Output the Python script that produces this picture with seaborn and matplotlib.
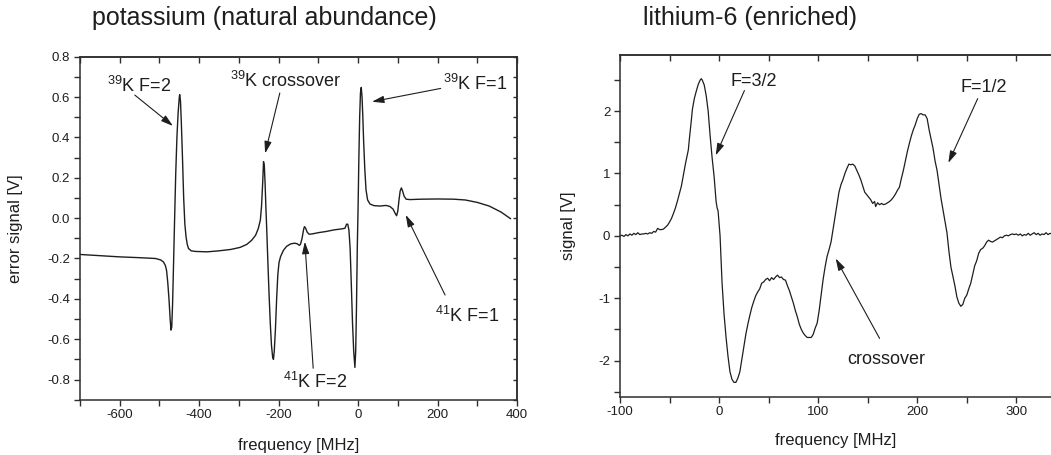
import matplotlib
matplotlib.use("Agg")
import matplotlib.pyplot as plt
import seaborn as sns
from matplotlib.ticker import MultipleLocator, FuncFormatter

# ---------------- data ----------------
K_FREQ = [-700, -650, -600, -550, -510, -497, -490, -485, -482, -479, -476, -473, -471, -469, -467,
          -465, -462, -459, -456, -453, -450, -449, -447, -445, -442, -439, -436, -433, -430, -427,
          -420, -410, -380, -350, -320, -297, -280, -268, -258, -251, -246, -243, -240, -238, -236,
          -234, -232, -230, -227, -224, -221, -218, -215, -213, -211, -208, -205, -202, -199, -195,
          -188, -180, -170, -160, -153, -148, -145, -141, -137, -135, -132, -128, -123, -115, -100,
          -80, -60, -40, -33, -29, -26, -23, -20, -17, -14, -11, -8, -6, -4, -2,
          0, 2, 4, 6, 8, 10, 12, 14, 17, 20, 24, 30, 40, 55, 70,
          80, 88, 93, 97, 100, 103, 106, 109, 112, 116, 121, 130, 160, 200, 240,
          270, 300, 330, 360, 384]
K_SIGNAL = [-0.180, -0.186, -0.192, -0.196, -0.200, -0.207, -0.217, -0.235, -0.26, -0.32, -0.40, -0.50, -0.555, -0.54, -0.43,
            -0.27, -0.02, 0.22, 0.40, 0.52, 0.60, 0.612, 0.58, 0.48, 0.30, 0.10, -0.03, -0.093, -0.13, -0.15,
            -0.162, -0.165, -0.167, -0.162, -0.155, -0.145, -0.13, -0.11, -0.085, -0.05, -0.01, 0.06, 0.18, 0.28, 0.26,
            0.17, 0.05, -0.05, -0.22, -0.38, -0.52, -0.63, -0.69, -0.70, -0.66, -0.55, -0.40, -0.28, -0.22, -0.19,
            -0.16, -0.14, -0.128, -0.124, -0.127, -0.135, -0.13, -0.10, -0.055, -0.042, -0.05, -0.07, -0.08, -0.078, -0.072,
            -0.066, -0.058, -0.053, -0.05, -0.03, -0.03, -0.06, -0.15, -0.33, -0.52, -0.66, -0.74, -0.66, -0.44, -0.15,
            0.05, 0.30, 0.50, 0.62, 0.648, 0.60, 0.50, 0.38, 0.24, 0.14, 0.09, 0.07, 0.062, 0.06, 0.063,
            0.058, 0.045, 0.025, 0.012, 0.035, 0.09, 0.135, 0.15, 0.135, 0.108, 0.094, 0.092, 0.094, 0.095, 0.094,
            0.09, 0.078, 0.06, 0.03, -0.003]

LI_FREQ = [-100, -98, -96, -94, -92, -90, -88, -86, -84, -82, -80, -78, -76, -74, -72,
           -70, -68, -66, -64, -62, -60, -58, -56, -54, -52, -50, -48, -46, -44, -42,
           -40, -38, -36, -34, -32, -31, -30, -28, -27, -25, -23, -21, -19, -18, -17,
           -15, -13, -11, -9, -7, -5, -3, -2, -1, 1, 3, 5, 7, 9, 11,
           13, 15, 17, 19, 21, 23, 25, 27, 29, 31, 33, 35, 37, 39, 41,
           43, 45, 47, 49, 51, 53, 55, 57, 59, 61, 63, 65, 67, 69, 71,
           73, 75, 77, 79, 81, 83, 85, 87, 89, 91, 93, 95, 97, 99, 101,
           103, 105, 107, 109, 111, 113, 115, 117, 119, 121, 123, 125, 127, 129, 131,
           133, 135, 137, 139, 141, 143, 145, 147, 149, 151, 153, 155, 157, 158, 160,
           162, 164, 166, 168, 170, 172, 174, 176, 178, 180, 182, 184, 186, 188, 190,
           192, 194, 196, 198, 200, 202, 204, 206, 208, 210, 212, 214, 216, 218, 220,
           222, 224, 226, 228, 230, 232, 234, 236, 238, 240, 242, 244, 246, 248, 250,
           252, 254, 256, 258, 260, 262, 264, 266, 268, 270, 272, 274, 276, 278, 280,
           282, 284, 286, 288, 290, 292, 294, 296, 298, 300, 302, 304, 306, 308, 310,
           312, 314, 316, 318, 320, 322, 324, 326, 328, 330, 332, 334, 336]
LI_SIGNAL = [0.00, 0.01, -0.01, 0.02, 0.00, 0.03, 0.01, 0.04, 0.02, 0.05, 0.02, 0.03, 0.03, 0.04, 0.03,
             0.05, 0.04, 0.07, 0.06, 0.12, 0.10, 0.10, 0.11, 0.14, 0.17, 0.22, 0.28, 0.36, 0.45, 0.56,
             0.68, 0.80, 0.98, 1.15, 1.30, 1.38, 1.55, 1.85, 2.02, 2.20, 2.32, 2.43, 2.50, 2.52, 2.50,
             2.42, 2.25, 2.00, 1.60, 1.25, 0.95, 0.55, 0.45, 0.40, 0.00, -0.75, -1.25, -1.62, -1.93, -2.18,
             -2.30, -2.35, -2.35, -2.28, -2.18, -1.98, -1.78, -1.58, -1.42, -1.28, -1.15, -1.05, -0.96, -0.90, -0.85,
             -0.76, -0.74, -0.70, -0.68, -0.72, -0.67, -0.70, -0.66, -0.63, -0.67, -0.66, -0.70, -0.71, -0.80, -0.88,
             -0.98, -1.08, -1.20, -1.30, -1.42, -1.50, -1.56, -1.60, -1.63, -1.63, -1.63, -1.58, -1.48, -1.40, -1.20,
             -0.95, -0.70, -0.50, -0.33, -0.22, -0.10, 0.10, 0.30, 0.50, 0.70, 0.82, 0.90, 1.00, 1.08, 1.15,
             1.14, 1.15, 1.12, 1.05, 0.98, 0.90, 0.80, 0.70, 0.66, 0.62, 0.58, 0.52, 0.55, 0.47, 0.53,
             0.50, 0.52, 0.50, 0.51, 0.53, 0.55, 0.58, 0.62, 0.67, 0.73, 0.78, 0.92, 1.05, 1.20, 1.35,
             1.48, 1.60, 1.70, 1.78, 1.88, 1.95, 1.96, 1.94, 1.94, 1.88, 1.70, 1.55, 1.40, 1.20, 1.05,
             0.82, 0.60, 0.42, 0.25, 0.05, -0.25, -0.50, -0.65, -0.80, -0.98, -1.08, -1.13, -1.10, -1.00, -0.95,
             -0.85, -0.76, -0.62, -0.48, -0.40, -0.28, -0.22, -0.20, -0.16, -0.10, -0.07, -0.09, -0.10, -0.08, -0.06,
             -0.04, -0.02, -0.03, 0.00, 0.01, 0.00, 0.02, 0.03, 0.02, 0.03, 0.01, 0.03, 0.00, 0.02, 0.01,
             0.04, 0.01, 0.03, 0.05, 0.02, 0.04, 0.01, 0.03, 0.02, 0.05, 0.02, 0.04, 0.03]

TITLES = ["potassium (natural abundance)", "lithium-6 (enriched)"]
K_LABELS = [r"$^{39}$K F=2", r"$^{39}$K crossover", r"$^{39}$K F=1", r"$^{41}$K F=1", r"$^{41}$K F=2"]
LI_LABELS = ["F=3/2", "F=1/2", "crossover"]

# ---------------- style ----------------
sns.set_theme(style="ticks")
plt.rcParams["font.family"] = ["Liberation Sans", "DejaVu Sans"]
plt.rcParams["mathtext.fontset"] = "custom"
plt.rcParams["mathtext.rm"] = "Liberation Sans"
plt.rcParams["mathtext.it"] = "Liberation Sans:italic"
plt.rcParams["mathtext.default"] = "regular"
plt.rcParams["axes.unicode_minus"] = False

INK = "#1e1e1e"
SPINE = "#2e2e2e"

fig = plt.figure(figsize=(10.51, 4.55), dpi=100)
axL = fig.add_axes([0.0761, 0.1215, 0.4158, 0.7538])
axR = fig.add_axes([0.5899, 0.1281, 0.4101, 0.751])

sns.lineplot(x=K_FREQ, y=K_SIGNAL, ax=axL, color=INK, linewidth=1.0, estimator=None, sort=False)
sns.lineplot(x=LI_FREQ, y=LI_SIGNAL, ax=axR, color=INK, linewidth=0.9, estimator=None, sort=False)

fmt1 = FuncFormatter(lambda v, p: f"{round(v, 1) + 0:.1f}")
fmtint = FuncFormatter(lambda v, p: f"{int(round(v))}")


def style_axes(ax, xlim, ylim, xmaj, xmin, ymaj, ymin, yfmt, right_spine=True):
    ax.set_xlim(*xlim)
    ax.set_ylim(*ylim)
    ax.xaxis.set_major_locator(MultipleLocator(xmaj))
    ax.xaxis.set_minor_locator(MultipleLocator(xmin))
    ax.yaxis.set_major_locator(MultipleLocator(ymaj))
    ax.yaxis.set_minor_locator(MultipleLocator(ymin))
    ax.xaxis.set_major_formatter(fmtint)
    ax.yaxis.set_major_formatter(yfmt)
    ax.tick_params(which="both", direction="out", length=4, width=1.0, color=SPINE,
                   top=False, right=False, labelsize=9.5, labelcolor=INK, pad=3)
    for s in ax.spines.values():
        s.set_color(SPINE)
        s.set_linewidth(1.1)
    ax.spines["top"].set_visible(True)
    ax.spines["right"].set_visible(right_spine)
    sec = ax.secondary_xaxis("top")
    sec.xaxis.set_major_locator(MultipleLocator(xmin))
    sec.tick_params(direction="in", length=4, width=1.0, color=SPINE, labeltop=False)
    sec.spines["top"].set_color(SPINE)
    sec.spines["top"].set_linewidth(1.1)
    if right_spine:
        secy = ax.secondary_yaxis("right")
        secy.yaxis.set_major_locator(MultipleLocator(ymin))
        secy.tick_params(direction="in", length=3, width=1.0, color=SPINE, labelright=False)
        secy.spines["right"].set_color(SPINE)
        secy.spines["right"].set_linewidth(1.1)


style_axes(axL, (-700, 400), (-0.9, 0.8), 200, 100, 0.2, 0.1, fmt1, right_spine=True)
style_axes(axR, (-100, 335), (-2.58, 2.9), 100, 50, 1, 0.5, fmtint, right_spine=False)

axL.set_xlabel("frequency [MHz]", fontsize=12, color=INK)
axL.set_ylabel("error signal [V]", fontsize=12, color=INK)
axR.set_xlabel("frequency [MHz]", fontsize=12, color=INK)
axR.set_ylabel("signal [V]", fontsize=12, color=INK)
axL.xaxis.set_label_coords(0.5, -0.112)
axR.xaxis.set_label_coords(0.5, -0.106)
axL.yaxis.set_label_coords(-0.130, 0.5)
axR.yaxis.set_label_coords(-0.102, 0.5)

fig.text(92 / 1051, 1 - 25 / 455, TITLES[0], fontsize=18, color=INK, ha="left", va="baseline")
fig.text(643 / 1051, 1 - 25 / 455, TITLES[1], fontsize=18, color=INK, ha="left", va="baseline")

arrow = dict(arrowstyle="-|>,head_length=0.6,head_width=0.18", color=INK, lw=0.8,
             shrinkA=0, shrinkB=0)

# potassium annotations: (label, text pos, arrow tail, arrow head)
k_ann = [
    (K_LABELS[0], (-632, 0.627), (-562, 0.610), (-466, 0.457)),
    (K_LABELS[1], (-322, 0.651), (-197, 0.620), (-234, 0.321)),
    (K_LABELS[2], (213, 0.635), (208, 0.643), (35, 0.577)),
    (K_LABELS[3], (193, -0.513), (219, -0.381), (120, 0.016)),
    (K_LABELS[4], (-188, -0.843), (-113, -0.744), (-134, -0.117)),
]
for lab, tpos, tail, head in k_ann:
    axL.text(*tpos, lab, fontsize=13, color=INK, ha="left", va="baseline")
    axL.annotate("", xy=head, xytext=tail, arrowprops=arrow, annotation_clip=False)

li_ann = [
    (LI_LABELS[0], (12, 2.41), (25.6, 2.33), (-3.4, 1.29)),
    (LI_LABELS[1], (244, 2.30), (261, 2.20), (231.4, 1.17)),
    (LI_LABELS[2], (129.7, -2.05), (162, -1.645), (117.7, -0.363)),
]
for lab, tpos, tail, head in li_ann:
    axR.text(*tpos, lab, fontsize=13, color=INK, ha="left", va="baseline")
    axR.annotate("", xy=head, xytext=tail, arrowprops=arrow, annotation_clip=False)

fig.savefig("out.png", dpi=100)
